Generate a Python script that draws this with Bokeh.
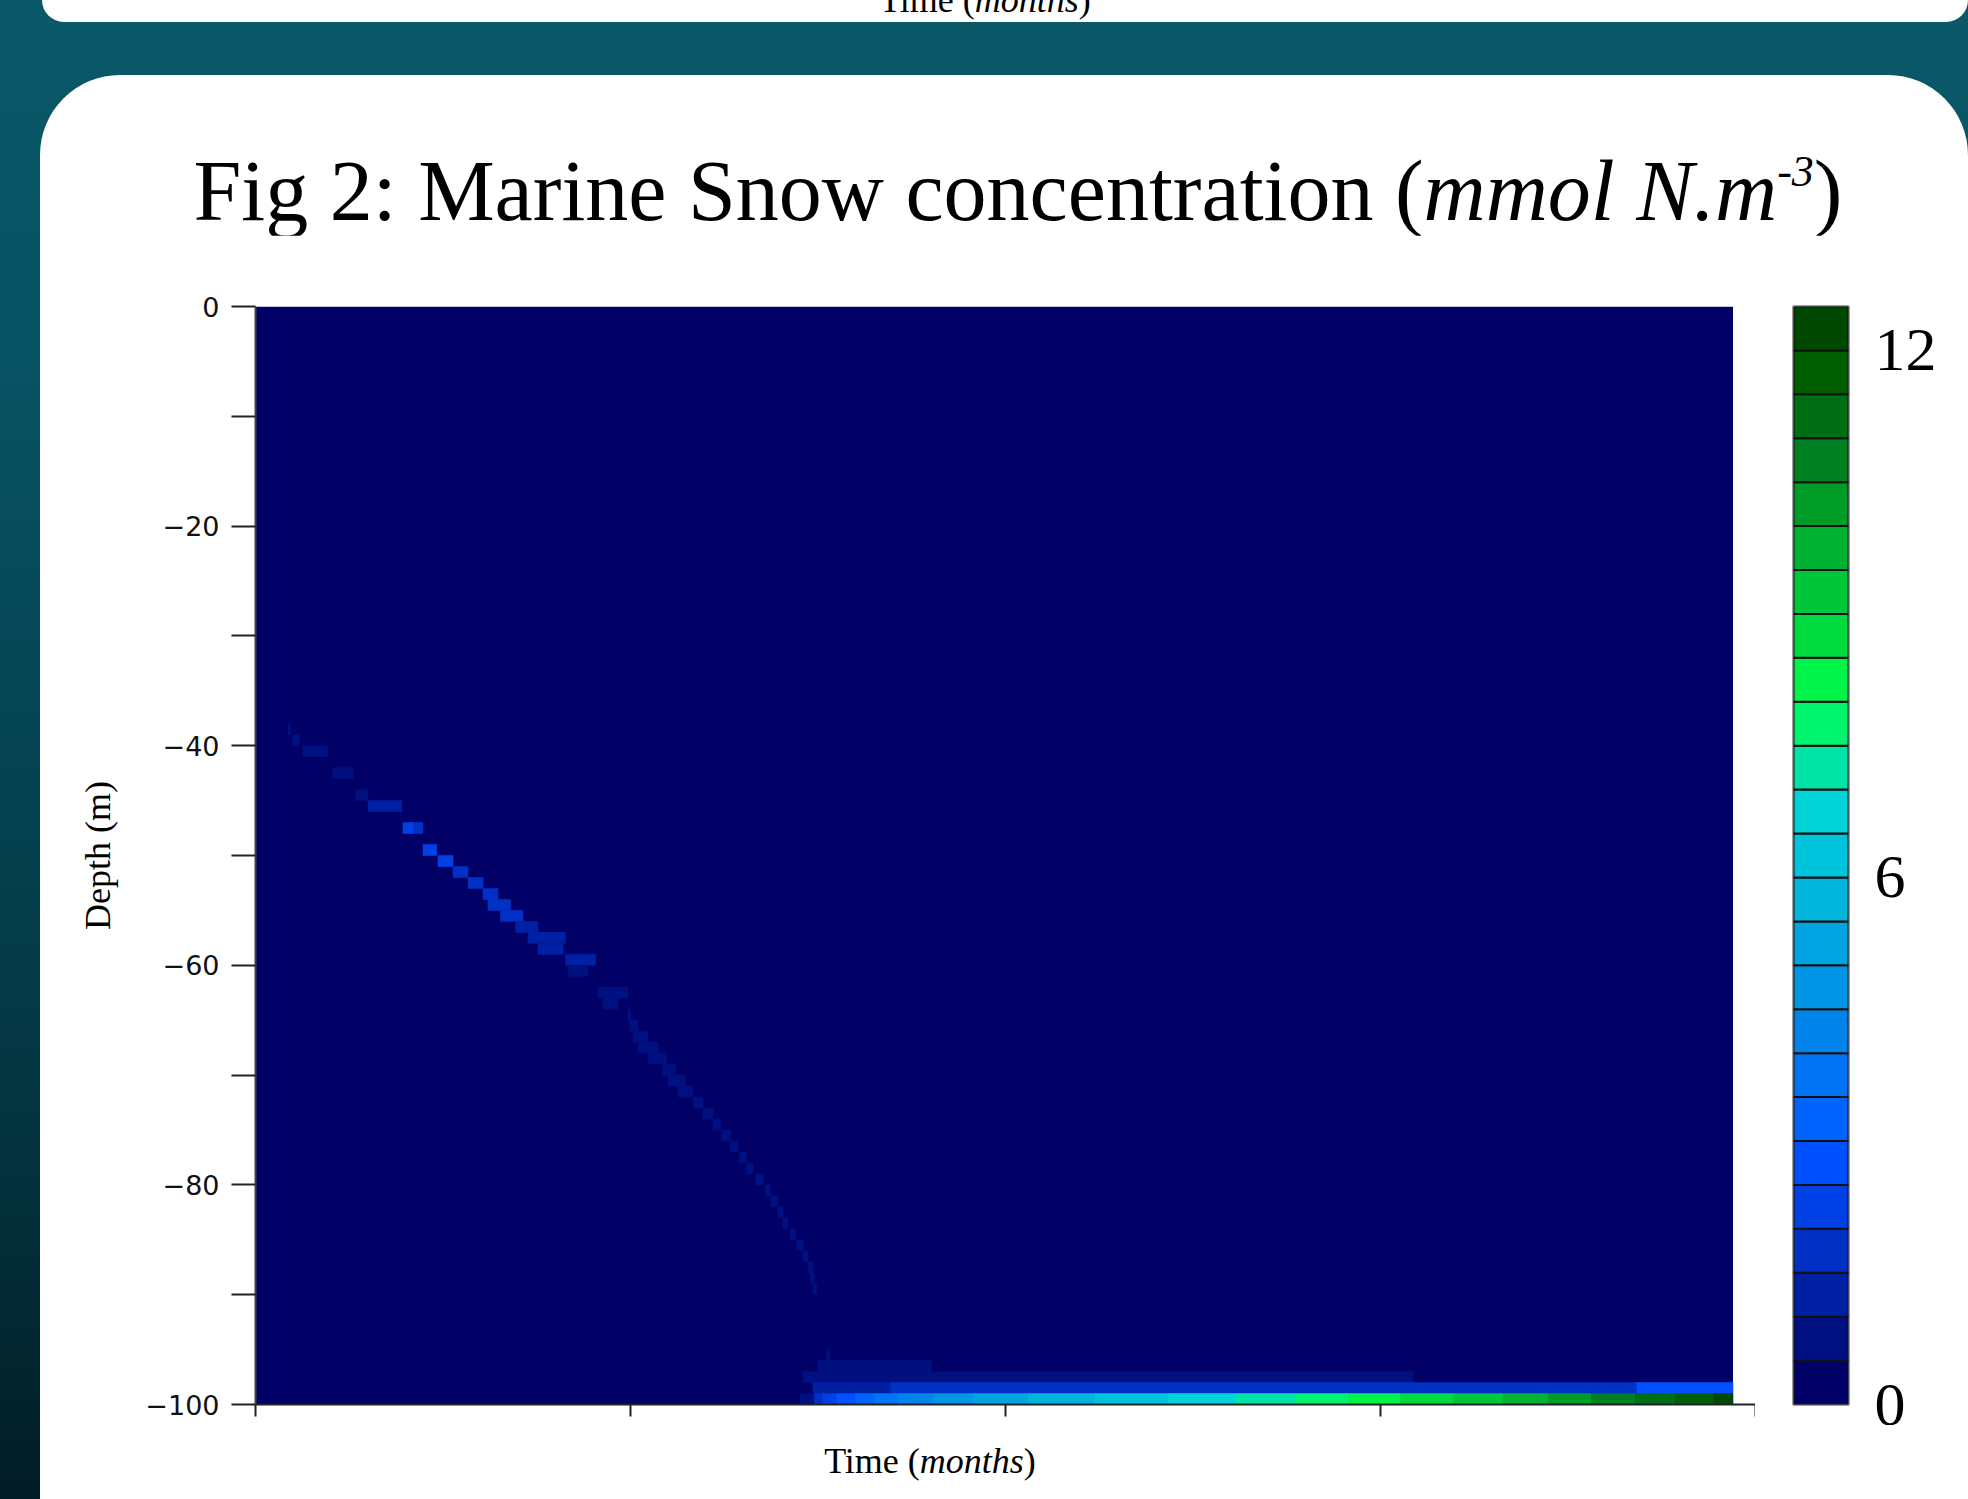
import numpy as np
from bokeh.plotting import figure
from bokeh.models import (Range1d, FixedTicker, ColumnDataSource, Div, LinearColorMapper,
                          LinearAxis, Column, Row)
from bokeh.embed import file_html
from bokeh.resources import INLINE

# ---------------- data ----------------
# colour levels (mmol N m^-3): 25 classes of 0.5 from 0 to 12.5
palette = ["#000066", "#001080", "#0020a4", "#0030c4", "#0040e4", "#0050ff", "#0064fc",
           "#0074f4", "#0084ec", "#0094e4", "#00a4e0", "#00b4dc", "#00c4dc", "#00d4d8",
           "#00e4a8", "#00f46e", "#00f44a", "#00dc40", "#00c63a", "#00b232", "#009c28",
           "#008020", "#006e14", "#005e00", "#004800"]
conc_low, conc_high = 0.0, 12.5
colorbar_ticks = [0, 6, 12]

run_end_month = 11.82          # end of model output (months)
depth_min, depth_max = -100, 0  # metres

# sinking pulse of marine snow (depth = top of 1 m cell)
streak_depth = [-38, -39, -40, -42, -44, -45, -47, -47, -49, -50, -51, -52, -53, -54, -55,
                -56, -57, -58, -59, -60, -62, -63, -64, -65, -66, -67, -68, -69, -70, -71,
                -72, -73, -74, -75, -76, -77, -78, -79, -80, -81, -82, -83, -84, -85, -86,
                -87, -88, -89]
streak_t0 = [0.26, 0.30, 0.38, 0.62, 0.80, 0.90, 1.18, 1.27, 1.34, 1.46, 1.58, 1.70, 1.82,
             1.86, 1.96, 2.08, 2.18, 2.26, 2.48, 2.50, 2.74, 2.78, 2.98, 2.99, 3.02, 3.06,
             3.14, 3.26, 3.30, 3.38, 3.50, 3.58, 3.66, 3.73, 3.80, 3.87, 3.93, 4.00, 4.08,
             4.12, 4.18, 4.22, 4.28, 4.33, 4.38, 4.42, 4.44, 4.46]
streak_t1 = [0.28, 0.35, 0.58, 0.78, 0.90, 1.17, 1.27, 1.34, 1.45, 1.58, 1.70, 1.82, 1.94,
             2.04, 2.14, 2.26, 2.48, 2.46, 2.72, 2.66, 2.98, 2.90, 3.00, 3.06, 3.14, 3.22,
             3.29, 3.36, 3.44, 3.50, 3.58, 3.66, 3.72, 3.80, 3.86, 3.93, 3.98, 4.06, 4.12,
             4.18, 4.22, 4.26, 4.32, 4.38, 4.42, 4.46, 4.47, 4.49]
streak_conc = [0.75, 0.75, 0.75, 0.75, 0.75, 1.25, 2.25, 1.75, 2.25, 2.25, 1.75, 1.75, 1.75,
               1.75, 1.75, 1.25, 1.25, 1.25, 1.25, 0.75, 0.75, 0.75, 0.75, 0.75, 0.75, 0.75,
               0.75, 0.75, 0.75, 0.75, 0.75, 0.75, 0.75, 0.75, 0.75, 0.75, 0.75, 0.75, 0.75,
               0.75, 0.75, 0.75, 0.75, 0.75, 0.75, 0.75, 0.75, 0.75]

# accumulation near the bottom: each row = time breakpoints + concentration per segment
bottom_rows = {
    -95: ([4.57, 4.59], [0.75]),
    -96: ([4.50, 5.41], [0.75]),
    -97: ([4.38, 9.26], [0.75]),
    -98: ([4.46, 5.08, 11.05, 11.82], [1.25, 1.75, 2.75]),
    -99: ([4.36, 4.47, 4.54, 4.65, 4.80, 4.95, 5.14, 5.42, 5.74, 6.18, 6.71, 7.30, 7.84,
           8.32, 8.75, 9.16, 9.58, 9.98, 10.34, 10.69, 11.04, 11.36, 11.67, 11.82],
          [0.75, 1.75, 2.25, 2.75, 3.25, 3.75, 4.25, 4.75, 5.25, 5.75, 6.25, 6.75, 7.25,
           7.75, 8.25, 8.75, 9.25, 9.75, 10.25, 10.75, 11.25, 11.75, 12.25]),
}

month_ticks = [0, 3, 6, 9, 12]
depth_ticks = [0, -20, -40, -60, -80, -100]
depth_minor_ticks = [-10, -30, -50, -70, -90]

# ---------------- build cells ----------------
L, R, T, B, C = [], [], [], [], []
for d, t0, t1, c in zip(streak_depth, streak_t0, streak_t1, streak_conc):
    L.append(t0); R.append(t1); T.append(d); B.append(d - 1); C.append(c)
for d, (bps, cs) in bottom_rows.items():
    for i, c in enumerate(cs):
        L.append(bps[i]); R.append(bps[i + 1]); T.append(d); B.append(d - 1); C.append(c)
cells = ColumnDataSource(dict(left=L, right=R, top=T, bottom=B, conc=C))

mapper = LinearColorMapper(palette=palette, low=conc_low, high=conc_high)

SERIF = "Liberation Serif"

# ---------------- main figure ----------------
p = figure(width=1715, height=1190, x_range=Range1d(0, 12), y_range=Range1d(depth_min, depth_max),
           output_backend="svg", toolbar_location=None,
           min_border_left=215, min_border_right=0, min_border_top=71, min_border_bottom=21)
p.background_fill_color = "white"
p.border_fill_color = "white"
p.outline_line_color = None
p.grid.visible = False

# background field (zero concentration) over the model domain
p.quad(left=[0], right=[run_end_month], top=[depth_max], bottom=[depth_min],
       fill_color=palette[0], line_color=None)
p.quad(left="left", right="right", top="top", bottom="bottom", source=cells,
       fill_color={"field": "conc", "transform": mapper},
       line_color={"field": "conc", "transform": mapper}, line_width=0.6)

xa = p.xaxis[0]
xa.ticker = FixedTicker(ticks=month_ticks)
xa.major_tick_out = 12
xa.major_tick_in = 0
xa.minor_tick_out = 0
xa.major_label_overrides = {t: "" for t in month_ticks}
xa.major_label_standoff = 0
xa.axis_line_width = 2
xa.axis_line_color = "#222222"
xa.major_tick_line_width = 2
xa.major_tick_line_color = "#222222"

ya = p.yaxis[0]
ya.ticker = FixedTicker(ticks=depth_ticks, minor_ticks=depth_minor_ticks)
ya.major_label_overrides = {t: ("0" if t == 0 else "\u2212%d" % abs(t)) for t in depth_ticks}
ya.major_tick_out = 24
ya.major_tick_in = 0
ya.minor_tick_out = 24
ya.minor_tick_in = 0
ya.major_tick_line_width = 2
ya.minor_tick_line_width = 2
ya.major_tick_line_color = "#222222"
ya.minor_tick_line_color = "#222222"
ya.axis_line_width = 2
ya.axis_line_color = "#444444"
ya.major_label_text_font = "DejaVu Sans"
ya.major_label_text_font_size = "27px"
ya.major_label_text_color = "#111111"
ya.major_label_standoff = 12
ya.axis_label = "Depth (m)"
ya.axis_label_text_font = SERIF
ya.axis_label_text_font_style = "normal"
ya.axis_label_text_font_size = "36px"
ya.axis_label_text_color = "#000000"
ya.axis_label_standoff = 24

# ---------------- colour bar figure ----------------
lev_lo = [conc_low + i * (conc_high - conc_low) / len(palette) for i in range(len(palette))]
lev_hi = [conc_low + (i + 1) * (conc_high - conc_low) / len(palette) for i in range(len(palette))]
cb = figure(width=213, height=1190, x_range=Range1d(0, 1), y_range=Range1d(conc_low, conc_high),
            output_backend="svg", toolbar_location=None, x_axis_type=None, y_axis_type=None,
            min_border_left=38, min_border_right=120, min_border_top=71, min_border_bottom=20)
cb.background_fill_color = "white"
cb.border_fill_color = "white"
cb.grid.visible = False
cb.outline_line_color = "#a0a0a0"
cb.outline_line_width = 3
cb.quad(left=0, right=1, bottom=lev_lo, top=lev_hi, fill_color=palette,
        line_color="#111111", line_width=2)
ra = LinearAxis(ticker=FixedTicker(ticks=colorbar_ticks))
ra.axis_line_color = None
ra.major_tick_line_color = None
ra.minor_tick_line_color = None
ra.major_label_text_font = SERIF
ra.major_label_text_font_size = "62px"
ra.major_label_text_color = "#000000"
ra.major_label_standoff = 20
cb.add_layout(ra, "right")

# ---------------- page layout ----------------
top_div = Div(
    text=('<div style="position:relative;top:-18px;width:1886px;text-align:center;'
          'font-family:\'Liberation Serif\',serif;font-size:36px;line-height:36px;color:#000;'
          'white-space:nowrap">Time (<i>months</i>)</div>'),
    width=1926, height=22, margin=(0, 0, 0, 42),
    styles={"background-color": "white", "border-radius": "0 0 60px 60px", "overflow": "hidden"})

title_div = Div(
    text=('<div style="box-sizing:border-box;padding-top:73px;padding-left:28px;width:1928px;'
          'text-align:center;font-family:\'Liberation Serif\',serif;font-size:86px;'
          'line-height:86px;color:#000;white-space:nowrap">'
          'Fig 2: Marine Snow concentration (<i>mmol N.m'
          '<span style="font-size:44px;position:relative;top:-34px;">-3</span></i>)</div>'),
    width=1928, height=160, margin=0)

xlabel_div = Div(
    text=('<div style="padding-top:18px;width:1780px;text-align:center;'
          'font-family:\'Liberation Serif\',serif;font-size:36px;line-height:36px;color:#000;'
          'white-space:nowrap">Time (<i>months</i>)</div>'),
    width=1928, height=74, margin=0)

panel = Column(children=[title_div, Row(children=[p, cb], spacing=0), xlabel_div],
               width=1928, height=1424, margin=(53, 0, 0, 40), spacing=0,
               styles={"background-color": "white", "border-radius": "80px 80px 0 0"})

root = Column(children=[top_div, panel], width=1968, height=1499, spacing=0,
              styles={"background": "linear-gradient(180deg, #0a5868 0%, #075263 25%, #05414f 55%, #03303b 80%, #011c24 100%)",
                      "overflow": "hidden"})

open("out.html", "w").write(file_html(root, INLINE))
